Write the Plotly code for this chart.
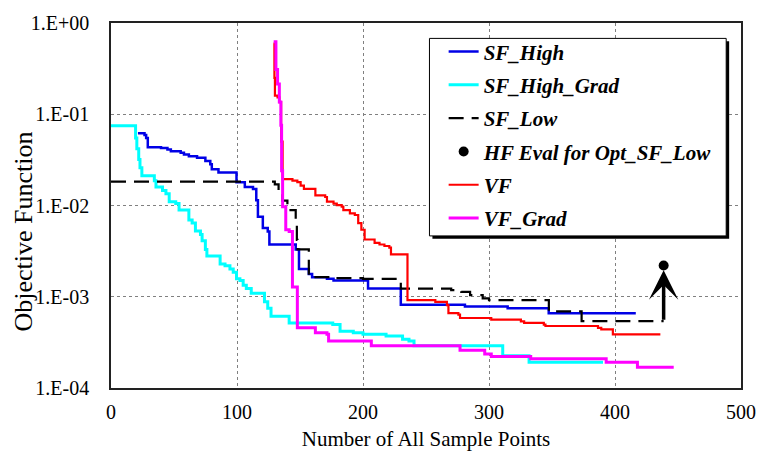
import math
import plotly.graph_objects as go

# Convergence histories: objective value vs. cumulative number of sample points
sf_high_x = [21.4, 26.6, 27.9, 29.2, 39.7, 44.8, 47.5, 55.3, 57.9, 61.8, 68.3, 74.9, 78.8, 80.0,
             85.3, 99.6, 106.2, 112.7, 115.3, 116.6, 120.5, 124.4, 125.7, 146.6, 149.2, 157.0,
             159.6, 171.4, 176.6, 204.0, 230.0, 280.9, 314.8, 347.4, 416.5]
sf_high_y = [0.062, 0.0594, 0.0548, 0.0434, 0.0428, 0.041, 0.0394, 0.0378, 0.0362, 0.0347, 0.0334,
             0.0307, 0.0283, 0.025, 0.023, 0.018, 0.0159, 0.0152, 0.0114, 0.00755, 0.00566, 0.0052,
             0.00374, 0.0033, 0.00201, 0.00178, 0.00164, 0.00157, 0.00151, 0.00123, 0.000815,
             0.00078, 0.000748, 0.000661, 0.000661]

sf_high_grad_x = [0, 19.5, 20.5, 22.0, 23.0, 24.5, 34.4, 35.7, 40.9, 43.6, 46.2, 51.4, 54.0, 61.8,
                  64.4, 67.0, 71.0, 72.3, 74.9, 76.1, 86.6, 90.5, 94.4, 97.0, 99.6, 102.3, 104.9,
                  107.4, 111.3, 121.8, 124.4, 127.0, 141.4, 176.0, 181.8, 192.3, 200.0, 218.3,
                  231.4, 236.5, 240.5, 310.9, 331.8, 390.5]
sf_high_grad_y = [0.0748, 0.055, 0.042, 0.032, 0.026, 0.0212, 0.0187, 0.0159, 0.0146, 0.01345,
                  0.011, 0.0105, 0.0089, 0.00695, 0.00645, 0.00525, 0.0048, 0.0041, 0.0033,
                  0.0028, 0.00228, 0.00219, 0.00201, 0.00186, 0.00157, 0.00151, 0.00134, 0.00123,
                  0.00109, 0.00088, 0.00075, 0.00061, 0.000516, 0.000496, 0.00042, 0.000403,
                  0.000389, 0.000372, 0.000342, 0.000328, 0.00029, 0.000226, 0.000192, 0.000192]

sf_low_x = [0, 130.0, 133.0, 136.0, 140.0, 146.6, 147.5, 148.0, 157.0, 175.0, 200.0, 230.0, 270.0,
            278.0, 285.0, 295.0, 300.0, 347.5, 373.5, 438.6]
sf_low_y = [0.0183, 0.017, 0.014, 0.0113, 0.0089, 0.0069, 0.0042, 0.0033, 0.00164, 0.0016,
            0.00157, 0.00123, 0.00118, 0.00113, 0.00104, 0.00096, 0.00092, 0.00069, 0.00054,
            0.00054]

hf_eval_x = [438.6]
hf_eval_y = [0.0022]

vf_x = [129.1, 129.7, 130.1, 132.2, 133.6, 135.0, 136.2, 144.0, 147.9, 150.5, 153.1, 162.2, 170.0,
        171.4, 176.6, 179.2, 183.1, 184.4, 189.6, 193.5, 196.2, 198.7, 201.3, 209.2, 213.1, 217.0,
        220.9, 222.2, 235.3, 257.4, 266.6, 267.8, 275.7, 277.0, 301.8, 325.3, 327.9, 343.5, 344.8,
        386.5, 389.1, 398.3, 436.0]
vf_y = [0.6, 0.25, 0.16, 0.153, 0.136, 0.05, 0.0195, 0.0187, 0.018, 0.0165, 0.0152, 0.0129, 0.0124,
        0.011, 0.0105, 0.0101, 0.0097, 0.0089, 0.0082, 0.00787, 0.0064, 0.00542, 0.00424, 0.0039,
        0.00374, 0.0036, 0.00345, 0.00292, 0.00092, 0.00088, 0.00081, 0.00066, 0.000636, 0.000585,
        0.000561, 0.000538, 0.000516, 0.000496, 0.000478, 0.000456, 0.00044, 0.000387, 0.000387]

vf_grad_x = [129.1, 130.9, 132.2, 133.6, 134.8, 135.4, 136.2, 138.7, 141.4, 144.0, 147.9, 162.2,
             171.4, 172.7, 206.6, 277.0, 296.6, 301.8, 333.1, 393.0, 417.8, 446.6]
vf_grad_y = [0.625, 0.31, 0.214, 0.136, 0.076, 0.024, 0.0097, 0.00542, 0.0052, 0.00128, 0.000456,
             0.000403, 0.000387, 0.000328, 0.00029, 0.00026, 0.000236, 0.000221, 0.000209,
             0.000192, 0.000169, 0.000169]

y_tick_vals = [1e-4, 1e-3, 1e-2, 1e-1, 1e0]
y_tick_text = ["1.E-04", "1.E-03", "1.E-02", "1.E-01", "1.E+00"]
x_tick_vals = [0, 100, 200, 300, 400, 500]

SERIF = "Liberation Serif"

fig = go.Figure()


def step_line(name, xs, ys, color, width, dash="solid"):
    fig.add_trace(go.Scatter(
        x=xs, y=ys, name=name, mode="lines", legendgroup=name,
        line=dict(color=color, width=width, dash=dash, shape="hv"),
    ))


step_line("SF_High", sf_high_x, sf_high_y, "#0000E6", 2.5)
step_line("SF_High_Grad", sf_high_grad_x, sf_high_grad_y, "#00FFFF", 3)
step_line("SF_Low", sf_low_x, sf_low_y, "#000000", 2.2, dash="15px,8px")
fig.add_trace(go.Scatter(
    x=hf_eval_x, y=hf_eval_y, name="HF Eval for Opt_SF_Low", mode="markers",
    legendgroup="hf", marker=dict(color="#000000", size=10),
))
step_line("VF", vf_x, vf_y, "#FF0000", 2.2)
step_line("VF_Grad", vf_grad_x, vf_grad_y, "#FF00FF", 3)

# arrow from the optimum of SF_Low up to its high-fidelity evaluation
fig.add_annotation(
    x=hf_eval_x[0], y=math.log10(0.00195), xref="x", yref="y",
    ax=sf_low_x[-1], ay=math.log10(sf_low_y[-1]), axref="x", ayref="y",
    showarrow=True, arrowhead=3, arrowsize=1.4, arrowwidth=3.5, arrowcolor="#000000",
    text="",
)

# y-axis title
fig.add_annotation(
    text="Objective Function", textangle=-90, showarrow=False,
    xref="paper", yref="paper", x=-0.139, y=0.43, xanchor="center", yanchor="middle",
    font=dict(family=SERIF, size=26, color="#000000"),
)

# legend frame with drop shadow
lx0, lx1, ly0, ly1 = 0.5055, 0.9765, 0.4167, 0.9578
sx, sy = 3 / 639, 3 / 372
fig.add_shape(type="rect", xref="paper", yref="paper", layer="above",
              x0=lx0 + sx, x1=lx1 + sx, y0=ly0 - sy, y1=ly1 - sy,
              fillcolor="#000000", line=dict(width=0))
fig.add_shape(type="rect", xref="paper", yref="paper", layer="above",
              x0=lx0, x1=lx1, y0=ly0, y1=ly1,
              fillcolor="#FFFFFF", line=dict(color="#000000", width=1))

fig.update_layout(
    width=768, height=465,
    margin=dict(l=111, r=18, t=16, b=77),
    paper_bgcolor="#FFFFFF", plot_bgcolor="#FFFFFF",
    font=dict(family=SERIF, size=20, color="#000000"),
    showlegend=True,
    legend=dict(
        x=0.528, y=0.977, xanchor="left", yanchor="top",
        bgcolor="rgba(0,0,0,0)", borderwidth=0,
        tracegroupgap=3,
        font=dict(family=SERIF, size=21, color="#000000", weight="bold", style="italic"),
    ),
    xaxis=dict(
        range=[0, 500], tickvals=x_tick_vals, ticks="",
        showline=True, linecolor="#222222", linewidth=1.5, mirror=True,
        showgrid=True, gridcolor="#808080", gridwidth=1, griddash="dot",
        zeroline=False, ticklabelstandoff=5,
        tickfont=dict(family=SERIF, size=20),
        title=dict(text="Number of All Sample Points", font=dict(family=SERIF, size=21), standoff=10),
    ),
    yaxis=dict(
        type="log", range=[-4, 0], tickvals=y_tick_vals, ticktext=y_tick_text, ticks="",
        showline=True, linecolor="#222222", linewidth=1.5, mirror=True,
        showgrid=True, gridcolor="#808080", gridwidth=1, griddash="dot",
        zeroline=False, ticklabelstandoff=16,
        tickfont=dict(family=SERIF, size=20),
    ),
)

fig.write_html("out.html")
